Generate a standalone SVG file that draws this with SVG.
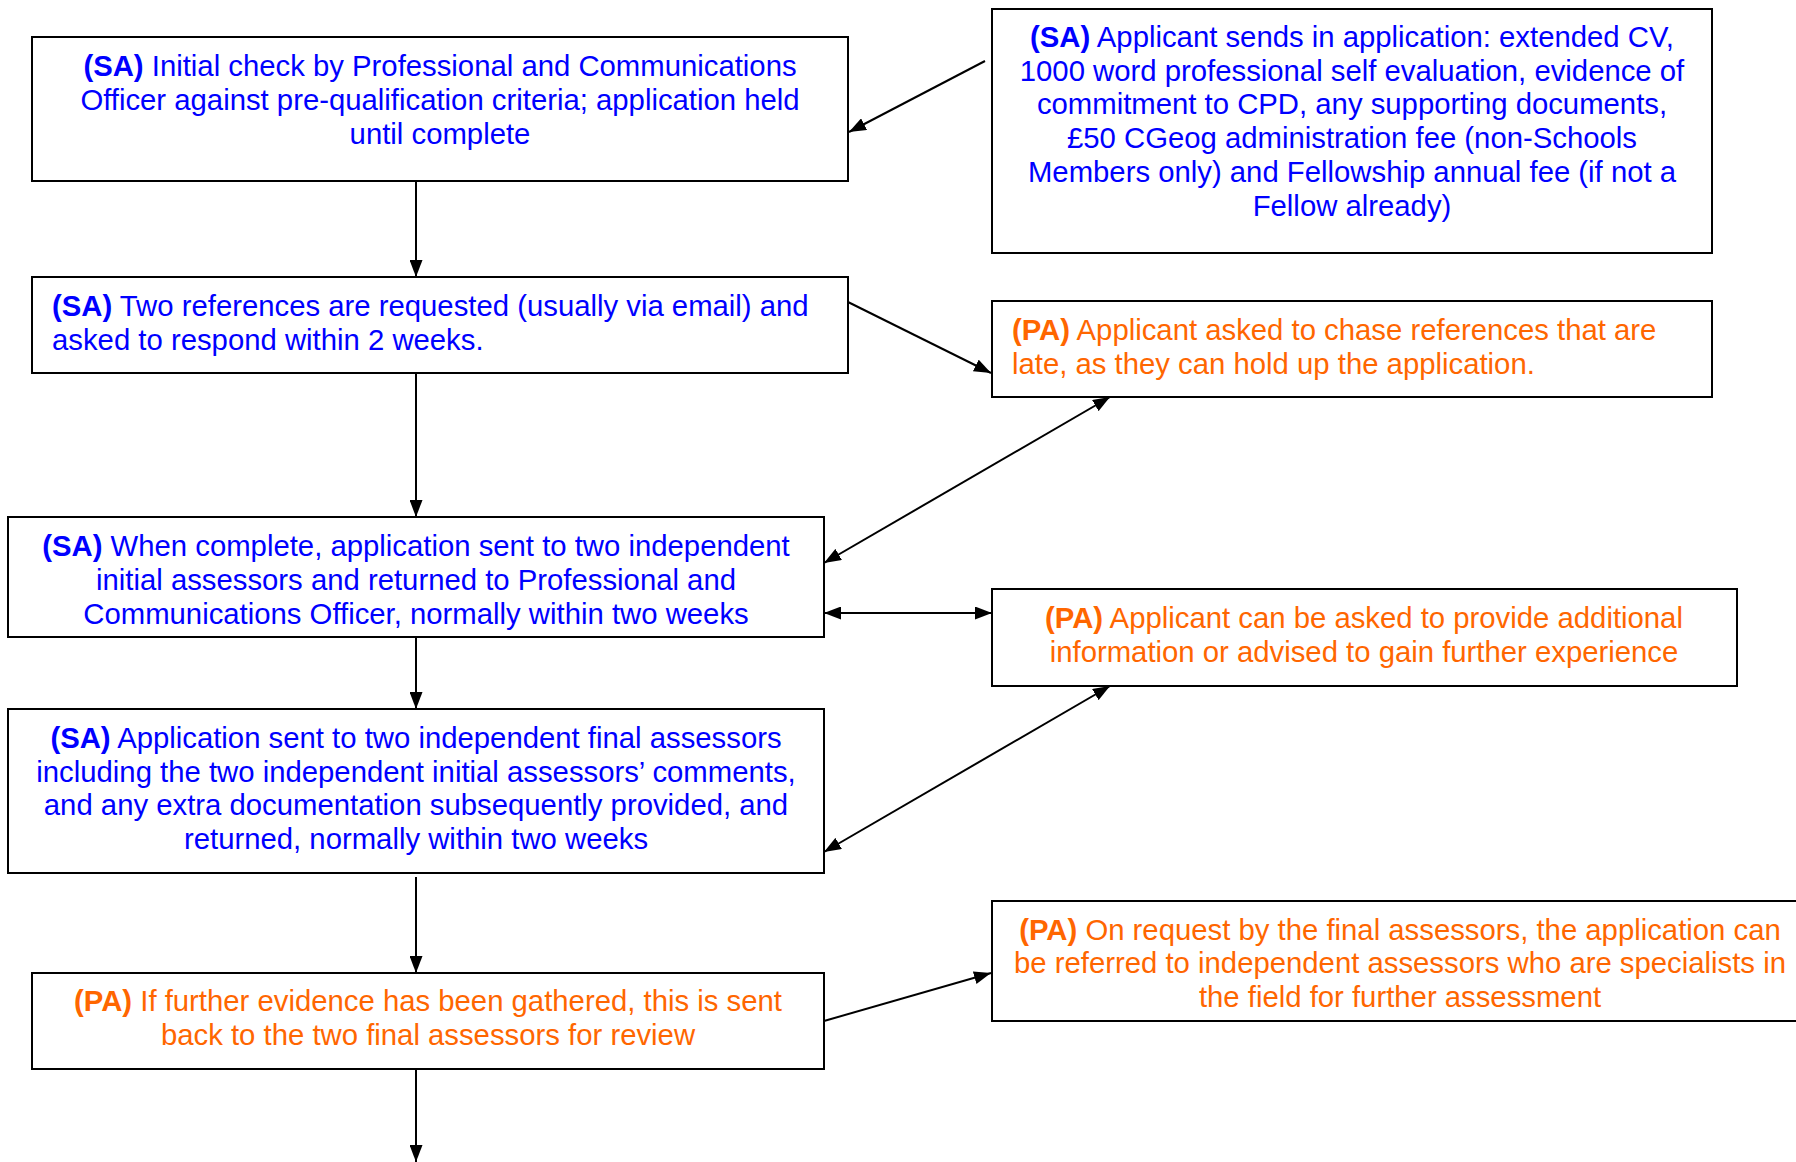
<svg xmlns="http://www.w3.org/2000/svg" width="1796" height="1162" viewBox="0 0 1796 1162">
<style>
  .box { fill: #ffffff; stroke: #000000; stroke-width: 2; }
  .t { font-family: "Liberation Sans", Arial, sans-serif; font-size: 29.3px; }
  .sa { fill: #0000ff; }
  .pa { fill: #ff6600; }
  .b { font-weight: bold; }
  .c { text-anchor: middle; }
  .conn { stroke: #000000; stroke-width: 2; fill: none; }
</style>
<defs>
  <marker id="arr" viewBox="0 0 17 13" refX="17" refY="6.5" markerWidth="17" markerHeight="13" markerUnits="userSpaceOnUse" orient="auto-start-reverse">
    <path d="M0,0 L17,6.5 L0,13 Z" fill="#000000"/>
  </marker>
</defs>
<rect width="1796" height="1162" fill="#ffffff"/>

<g id="connectors">
  <line class="conn" x1="416" y1="181" x2="416" y2="277" marker-end="url(#arr)"/>
  <line class="conn" x1="416" y1="373" x2="416" y2="517" marker-end="url(#arr)"/>
  <line class="conn" x1="416" y1="637" x2="416" y2="709" marker-end="url(#arr)"/>
  <line class="conn" x1="416" y1="877" x2="416" y2="973" marker-end="url(#arr)"/>
  <line class="conn" x1="416" y1="1069" x2="416" y2="1162" marker-end="url(#arr)"/>
  <line class="conn" x1="985" y1="61" x2="849" y2="132" marker-end="url(#arr)"/>
  <line class="conn" x1="848" y1="302" x2="991" y2="373" marker-end="url(#arr)"/>
  <line class="conn" x1="824" y1="563" x2="1110" y2="397" marker-start="url(#arr)" marker-end="url(#arr)"/>
  <line class="conn" x1="824" y1="613" x2="992" y2="613" marker-start="url(#arr)" marker-end="url(#arr)"/>
  <line class="conn" x1="824" y1="852" x2="1110" y2="686" marker-start="url(#arr)" marker-end="url(#arr)"/>
  <line class="conn" x1="824" y1="1021" x2="991" y2="973" marker-end="url(#arr)"/>
</g>

<g id="node-initial-check">
  <rect class="box" x="32" y="37" width="816" height="144"/>
  <text class="t sa c" x="440" y="75.5"><tspan class="b">(SA)</tspan> Initial check by Professional and Communications</text>
  <text class="t sa c" x="440" y="109.5">Officer against pre-qualification criteria; application held</text>
  <text class="t sa c" x="440" y="143.5">until complete</text>
</g>

<g id="node-applicant-sends">
  <rect class="box" x="992" y="9" width="720" height="244"/>
  <text class="t sa c" x="1352" y="46.5"><tspan class="b">(SA)</tspan> Applicant sends in application: extended CV,</text>
  <text class="t sa c" x="1352" y="80.5">1000 word professional self evaluation, evidence of</text>
  <text class="t sa c" x="1352" y="114">commitment to CPD, any supporting documents,</text>
  <text class="t sa c" x="1352" y="148">£50 CGeog administration fee (non-Schools</text>
  <text class="t sa c" x="1352" y="181.5">Members only) and Fellowship annual fee (if not a</text>
  <text class="t sa c" x="1352" y="215.5">Fellow already)</text>
</g>

<g id="node-references">
  <rect class="box" x="32" y="277" width="816" height="96"/>
  <text class="t sa" x="52" y="315.5"><tspan class="b">(SA)</tspan> Two references are requested (usually via email) and</text>
  <text class="t sa" x="52" y="349.5">asked to respond within 2 weeks.</text>
</g>

<g id="node-chase">
  <rect class="box" x="992" y="301" width="720" height="96"/>
  <text class="t pa" x="1012" y="339.5"><tspan class="b">(PA)</tspan> Applicant asked to chase references that are</text>
  <text class="t pa" x="1012" y="373.5">late, as they can hold up the application.</text>
</g>

<g id="node-initial-assessors">
  <rect class="box" x="8" y="517" width="816" height="120"/>
  <text class="t sa c" x="416" y="556"><tspan class="b">(SA)</tspan> When complete, application sent to two independent</text>
  <text class="t sa c" x="416" y="589.5">initial assessors and returned to Professional and</text>
  <text class="t sa c" x="416" y="623.5">Communications Officer, normally within two weeks</text>
</g>

<g id="node-additional-info">
  <rect class="box" x="992" y="589" width="745" height="97"/>
  <text class="t pa c" x="1364" y="628"><tspan class="b">(PA)</tspan> Applicant can be asked to provide additional</text>
  <text class="t pa c" x="1364" y="661.5">information or advised to gain further experience</text>
</g>

<g id="node-final-assessors">
  <rect class="box" x="8" y="709" width="816" height="164"/>
  <text class="t sa c" x="416" y="748"><tspan class="b">(SA)</tspan> Application sent to two independent final assessors</text>
  <text class="t sa c" x="416" y="781.5">including the two independent initial assessors’ comments,</text>
  <text class="t sa c" x="416" y="815">and any extra documentation subsequently provided, and</text>
  <text class="t sa c" x="416" y="848.5">returned, normally within two weeks</text>
</g>

<g id="node-further-evidence">
  <rect class="box" x="32" y="973" width="792" height="96"/>
  <text class="t pa c" x="428" y="1011"><tspan class="b">(PA)</tspan> If further evidence has been gathered, this is sent</text>
  <text class="t pa c" x="428" y="1045">back to the two final assessors for review</text>
</g>

<g id="node-specialists">
  <rect class="box" x="992" y="901" width="820" height="120"/>
  <text class="t pa c" x="1400" y="939.5"><tspan class="b">(PA)</tspan> On request by the final assessors, the application can</text>
  <text class="t pa c" x="1400" y="973">be referred to independent assessors who are specialists in</text>
  <text class="t pa c" x="1400" y="1007">the field for further assessment</text>
</g>
</svg>
